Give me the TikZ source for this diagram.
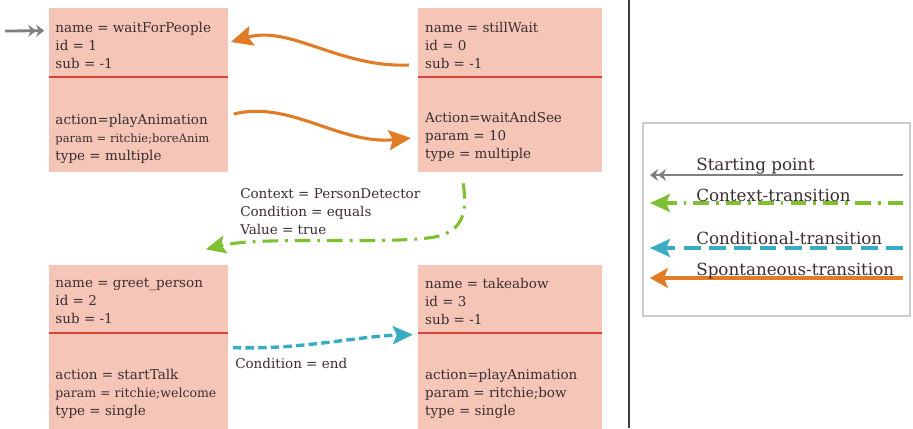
\documentclass[tikz,border=0pt]{standalone}
\usepackage{xcolor}
\usepackage{fontspec}
\setmainfont{DejaVu Serif}
\usepackage{tikz}
\usetikzlibrary{positioning,arrows.meta}

\definecolor{boxfill}{RGB}{245,198,183}
\definecolor{sepred}{RGB}{226,66,54}
\definecolor{ink}{RGB}{60,46,46}
\definecolor{orng}{RGB}{226,123,38}
\definecolor{grn}{RGB}{126,192,50}
\definecolor{cyn}{RGB}{56,172,192}
\definecolor{gry}{RGB}{128,128,128}

\begin{document}
\begin{tikzpicture}[
  x=0.025cm, y=-0.025cm,
  node distance=2.3cm and 4.75cm,
  state/.style={fill=boxfill,minimum width=4.45cm,minimum height=4.1cm,inner sep=0pt},
  wide/.style={minimum width=4.6cm},
  info/.style={anchor=north west,align=left,inner sep=0pt,text=ink,font=\fontsize{9.6}{12.8}\selectfont},
  legtxt/.style={anchor=base west,inner sep=0pt,text=ink,font=\fontsize{11.9}{14}\selectfont},
  sepline/.style={draw=sepred,line width=1.4pt},
  spont/.style={draw=orng,line width=2.2pt,-{Stealth[length=5.5mm,width=5mm,inset=1mm]}},
  ctx/.style={draw=grn,line width=2.2pt,dash pattern=on 11pt off 5pt on 2pt off 5pt,-{Stealth[length=5mm,width=4.5mm,inset=1mm]}},
  cond/.style={draw=cyn,line width=2.4pt,dash pattern=on 6pt off 3pt,-{Stealth[length=5mm,width=4.5mm,inset=1mm]}},
  entryarr/.style={draw=gry,line width=2pt,-{Stealth[length=2mm,width=3mm]Stealth[length=2mm,width=3mm]}},
]
\useasboundingbox (0,0) rectangle (913,428);

% states
\node[state]             (wait)  at (138.5,90) {};
\node[state,wide,right=of wait] (still) {};
\node[state,below=of wait]      (greet) {};
\node[state,wide,below=of still] (take) {};

% red separators
\foreach \s in {wait,still,greet,take}
  \draw[sepline] ([yshift=-1.725cm]\s.north west) -- ([yshift=-1.725cm]\s.north east);

% state texts
\node[info] (waitTop) at ([shift={(6,14)}]wait.north west) {name = waitForPeople\\ id = 1\\ sub = -1};
\node[info] (waitLow) at ([shift={(6,106)}]wait.north west) {action=playAnimation\\ {\fontsize{8.2}{11}\selectfont param = ritchie;boreAnim}\\ type = multiple};
\node[info] (stillTop) at ([shift={(7,14)}]still.north west) {name = stillWait\\ id = 0\\ sub = -1};
\node[info] (stillLow) at ([shift={(7,104)}]still.north west) {Action=waitAndSee\\ param = 10\\ type = multiple};
\node[info] (greetTop) at ([shift={(6,14)}]greet.north west) {name = greet\_person\\ id = 2\\ sub = -1};
\node[info] (greetLow) at ([shift={(6,105)}]greet.north west) {action = startTalk\\ {\fontsize{8.9}{12}\selectfont param = ritchie;welcome}\\ type = single};
\node[info] (takeTop) at ([shift={(7,14)}]take.north west) {name = takeabow\\ id = 3\\ sub = -1};
\node[info] (takeLow) at ([shift={(7,105)}]take.north west) {action=playAnimation\\ param = ritchie;bow\\ type = single};

% transitions
\coordinate (entry) at (5,31);
\draw[entryarr] (entry) -- ([shift={(-5,23)}]wait.north west);
\draw[spont] ([shift={(-9,-25)}]still.west) .. controls (340,68) and (290,25) .. ([shift={(3,-48)}]wait.east);
\draw[spont] ([shift={(6,24)}]wait.east) .. controls (290,100) and (340,145) .. ([shift={(-7,48)}]still.west);
\draw[ctx] ([shift={(-47,11)}]still.south) .. controls (468,215) and (462,234) .. (428,238)
  .. controls (380,244) and (260,236) .. ([shift={(-22,-15)}]greet.north east);
\draw[cond] ([shift={(5,1)}]greet.east) .. controls (300,350) and (360,336) .. ([shift={(-5,-12)}]take.west);

\node[info] (ctxlbl) at (240,188) {Context = PersonDetector\\ Condition = equals\\ Value = true};
\node[info] (condlbl) at (235,358) {Condition = end};

% divider
\draw[line width=1.3pt,draw=black!75] (629,0) -- (629,428);

% legend
\node[draw=black!20,line width=0.8pt,minimum width=6.675cm,minimum height=4.825cm] (legend) at (776.5,219.5) {};
\coordinate (l1r) at (903,175); \coordinate (l1l) at (650,175);
\coordinate (l2r) at (903,203); \coordinate (l2l) at (650,203);
\coordinate (l3r) at (903,248); \coordinate (l3l) at (650,248);
\coordinate (l4r) at (903,278); \coordinate (l4l) at (650,278);
\draw[entryarr,line width=1.6pt] (l1r) -- (l1l);
\draw[ctx] (l2r) -- (l2l);
\draw[cond,dash pattern=on 12pt off 6pt] (l3r) -- (l3l);
\draw[spont,-{Stealth[length=4.5mm,width=5mm,inset=1mm]}] (l4r) -- (l4l);
\node[legtxt] (lstart) at (696,170) {Starting point};
\node[legtxt] (lctx)   at (696,201) {Context-transition};
\node[legtxt] (lcond)  at (696,244) {Conditional-transition};
\node[legtxt] (lspont) at (696,275) {Spontaneous-transition};
\end{tikzpicture}
\end{document}
